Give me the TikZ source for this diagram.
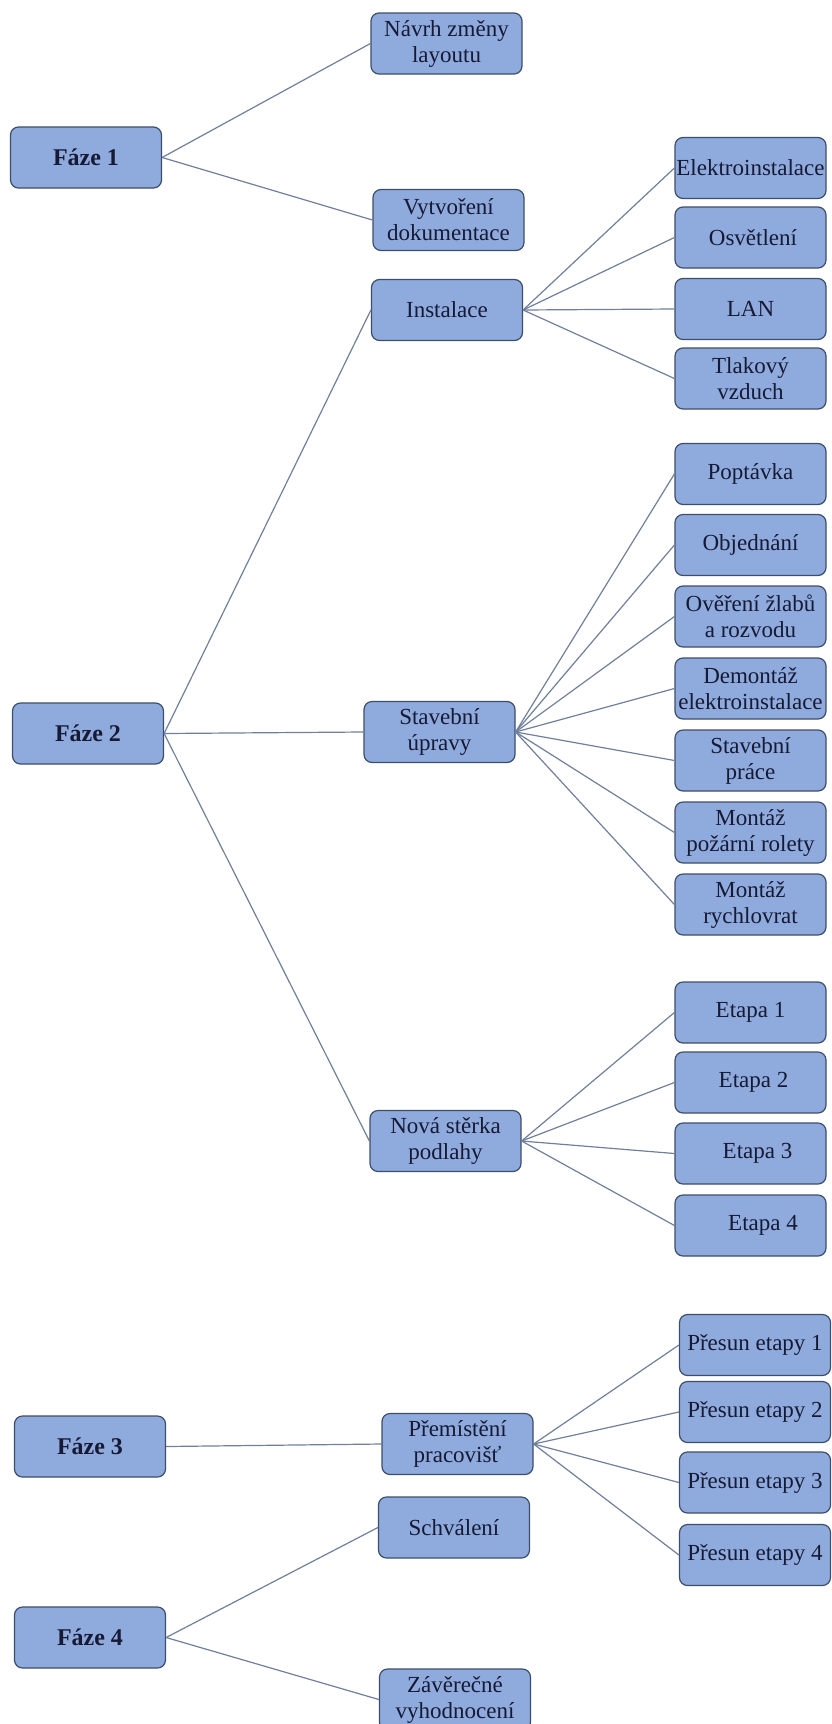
\documentclass[tikz,border=0pt]{standalone}
\usepackage{fontspec}
\setmainfont{Liberation Serif}
\definecolor{boxfill}{RGB}{143,170,220}
\definecolor{boxline}{RGB}{62,78,104}
\definecolor{wire}{RGB}{112,128,156}
\definecolor{ink}{RGB}{22,26,52}
\tikzset{
  task/.style={draw=boxline, line width=1.2pt, fill=boxfill, rounded corners=8pt,
    minimum width=151pt, minimum height=61pt, inner sep=0pt, align=center,
    text=ink, font=\fontsize{23}{26}\selectfont},
  phase/.style={task, font=\fontsize{24}{27}\selectfont\bfseries},
  wirestyle/.style={draw=wire, line width=1.2pt}
}
\begin{document}
\begin{tikzpicture}[x=1pt, y=-1pt]
\useasboundingbox (0,0) rectangle (832,1724);
\fill[white] (0,0) rectangle (832,1724);
\clip (0,0) rectangle (832,1724);

% phases
\node[phase] (f1) at (86,157.5) {Fáze 1};
\node[phase] (f2) at (88,733.5) {Fáze 2};
\node[phase] (f3) at (90,1446.5) {Fáze 3};
\node[phase] (f4) at (90,1637.5) {Fáze 4};

% phase 1
\node[task] (navrh) at (446.5,43.5) {Návrh změny\\layoutu};
\node[task] (vytv) at (448.5,220) {Vytvoření\\dokumentace};

% phase 2
\node[task] (inst) at (447,310) {Instalace};
\node[task] (stav) at (439.5,732) {Stavební\\úpravy};
\node[task] (nova) at (445.5,1141) {Nová stěrka\\podlahy};

\node[task] (elek) at (750.5,168) {Elektroinstalace};
\node[task] (osv) at (750.5,237.5) {\hspace*{5pt}Osvětlení};
\node[task] (lan) at (750.5,309) {LAN};
\node[task] (tlak) at (750.5,378.5) {Tlakový\\vzduch};

\node[task] (popt) at (750.5,474) {Poptávka};
\node[task] (objed) at (750.5,545) {Objednání};
\node[task] (over) at (750.5,616.5) {Ověření žlabů\\a rozvodu};
\node[task] (demon) at (750.5,688.5) {Demontáž\\elektroinstalace};
\node[task] (stpr) at (750.5,760.5) {Stavební\\práce};
\node[task] (mpoz) at (750.5,832.5) {Montáž\\požární rolety};
\node[task] (mrych) at (750.5,904.5) {Montáž\\rychlovrat};

\node[task] (et1) at (750.5,1012.5) {Etapa 1};
\node[task] (et2) at (750.5,1082.5) {\hspace*{6pt}Etapa 2};
\node[task] (et3) at (750.5,1153.5) {\hspace*{14pt}Etapa 3};
\node[task] (et4) at (750.5,1225.5) {\hspace*{25pt}Etapa 4};

% phase 3
\node[task] (prem) at (457.5,1444) {Přemístění\\pracovišť};
\node[task] (pr1) at (755,1345) {Přesun etapy 1};
\node[task] (pr2) at (755,1412) {Přesun etapy 2};
\node[task] (pr3) at (755,1482.5) {Přesun etapy 3};
\node[task] (pr4) at (755,1555) {Přesun etapy 4};

% phase 4
\node[task] (schv) at (454,1527.5) {Schválení};
\node[task] (zav) at (455,1699.5) {Závěrečné\\vyhodnocení};

% connectors
\foreach \c in {navrh,vytv} \draw[wirestyle] (f1.east) -- (\c.west);
\foreach \c in {inst,stav,nova} \draw[wirestyle] (f2.east) -- (\c.west);
\foreach \c in {elek,osv,lan,tlak} \draw[wirestyle] (inst.east) -- (\c.west);
\foreach \c in {popt,objed,over,demon,stpr,mpoz,mrych} \draw[wirestyle] (stav.east) -- (\c.west);
\foreach \c in {et1,et2,et3,et4} \draw[wirestyle] (nova.east) -- (\c.west);
\draw[wirestyle] (f3.east) -- (prem.west);
\foreach \c in {pr1,pr2,pr3,pr4} \draw[wirestyle] (prem.east) -- (\c.west);
\foreach \c in {schv,zav} \draw[wirestyle] (f4.east) -- (\c.west);
\end{tikzpicture}
\end{document}
